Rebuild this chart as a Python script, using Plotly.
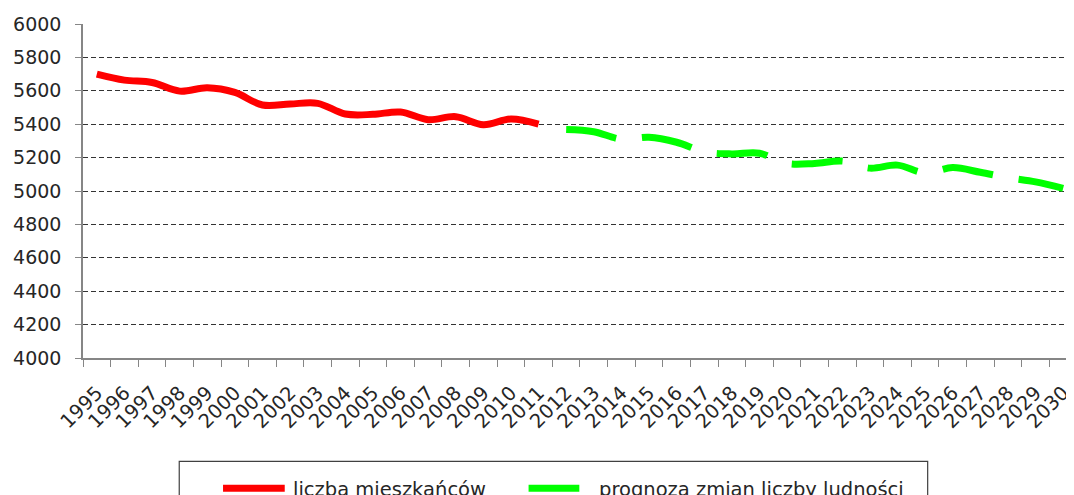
import plotly.graph_objects as go

years = [str(y) for y in range(1995, 2031)]
hist_years = years[:17]          # 1995-2011
proj_years = years[17:]          # 2012-2030
hist_values = [5700, 5664, 5650, 5598, 5618, 5590, 5515, 5521, 5525, 5461,
               5459, 5473, 5427, 5445, 5397, 5431, 5401]
proj_values = [5368, 5355, 5310, 5322, 5292, 5235, 5222, 5226, 5165, 5165,
               5179, 5137, 5155, 5108, 5140, 5112, 5080, 5055, 5016]
hist_name = "liczba mieszkańców"
proj_name = "prognoza zmian liczby ludności"
y_ticks = list(range(4000, 6001, 200))

# page body has an 8px margin: build the figure so the screen shows it right
OFF = 8
W, H = 1074 - OFF, 495 - OFF
SL, ST, SB = 83.3, 24.0, 358.5          # desired screen positions
L, T, B = SL - OFF, ST - OFF, SB - OFF
PW = W - L
PH = B - T

def px(x):
    return (x - OFF - L) / PW

def py(y):
    return (B - (y - OFF)) / PH

FONT = "DejaVu Sans"
TXT = "#262626"
AX = "#868686"

fig = go.Figure()
fig.add_trace(go.Scatter(
    x=hist_years, y=hist_values, name=hist_name, mode="lines",
    line=dict(color="#FF0000", width=7, shape="spline", smoothing=1.0),
    showlegend=False))
fig.add_trace(go.Scatter(
    x=proj_years, y=proj_values, name=proj_name, mode="lines",
    line=dict(color="#00FF00", width=7, shape="spline", smoothing=1.0,
              dash="51px,26px"),
    showlegend=False))

# custom legend (box, samples, labels)
shapes = [
    dict(type="rect", xref="paper", yref="paper",
         x0=px(180), x1=px(932), y0=py(530), y1=py(462),
         line=dict(color="#404040", width=1.2), fillcolor="rgba(0,0,0,0)"),
    dict(type="line", xref="paper", yref="paper",
         x0=px(224), x1=px(286), y0=py(489), y1=py(489),
         line=dict(color="#FF0000", width=7)),
    dict(type="line", xref="paper", yref="paper",
         x0=px(531), x1=px(582), y0=py(489), y1=py(489),
         line=dict(color="#00FF00", width=7)),
]
annotations = [
    dict(xref="paper", yref="paper", x=px(292), y=py(490), text=hist_name,
         showarrow=False, xanchor="left", yanchor="middle",
         font=dict(family=FONT, size=19.5, color=TXT)),
    dict(xref="paper", yref="paper", x=px(600), y=py(490), text=proj_name,
         showarrow=False, xanchor="left", yanchor="middle",
         font=dict(family=FONT, size=19.5, color=TXT)),
]

fig.update_layout(
    width=W, height=H,
    margin=dict(l=L, r=0, t=T, b=H - B, pad=0),
    paper_bgcolor="white", plot_bgcolor="white",
    font=dict(family=FONT, size=19, color=TXT),
    shapes=shapes, annotations=annotations,
    showlegend=False,
)
fig.update_xaxes(
    type="category", categoryorder="array", categoryarray=years,
    range=[-0.5, 35.5 - (1082 - 1074) / 27.73],
    tickangle=-45, tickson="boundaries", ticks="outside", ticklen=7,
    tickcolor=AX, showline=True, linecolor=AX, linewidth=1.5,
    showgrid=False, ticklabelstandoff=14,
    tickfont=dict(family=FONT, size=19.5, color=TXT),
)
fig.update_yaxes(
    range=[4000, 6000], tickvals=y_ticks, ticks="outside", ticklen=6,
    tickcolor=AX, showline=True, linecolor=AX, linewidth=1.5,
    showgrid=True, gridcolor="#333333", gridwidth=1, griddash="5px,3px",
    zeroline=False, ticklabelstandoff=10,
    tickfont=dict(family=FONT, size=19, color=TXT),
)

fig.write_html("out.html")
